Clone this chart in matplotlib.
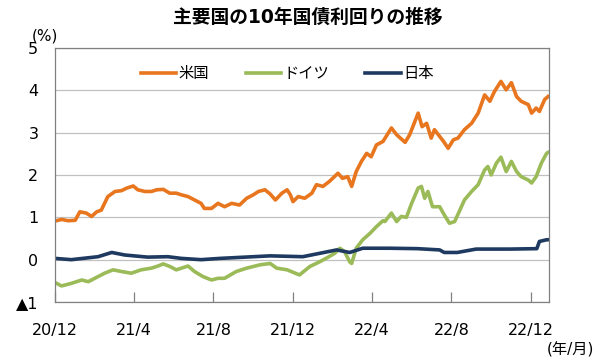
import numpy as np
import pandas as pd
import matplotlib
matplotlib.use("Agg")
import matplotlib.pyplot as plt

plt.rcParams['font.family'] = ['DejaVu Sans', 'Noto Sans CJK JP']

# values (%)
us_dates = ["2020-12-01", "2020-12-11", "2020-12-21", "2021-01-01", "2021-01-08", "2021-01-18",
            "2021-01-26", "2021-02-03", "2021-02-10", "2021-02-20", "2021-03-03", "2021-03-13",
            "2021-03-21", "2021-03-31", "2021-04-07", "2021-04-18", "2021-04-28", "2021-05-06",
            "2021-05-16", "2021-05-26", "2021-06-05", "2021-06-13", "2021-06-23", "2021-07-03",
            "2021-07-13", "2021-07-18", "2021-07-29", "2021-08-08", "2021-08-18", "2021-08-29",
            "2021-09-10", "2021-09-21", "2021-10-01", "2021-10-09", "2021-10-19", "2021-10-27",
            "2021-11-04", "2021-11-14", "2021-11-22", "2021-11-27", "2021-12-01", "2021-12-09",
            "2021-12-19", "2021-12-30", "2022-01-06", "2022-01-16", "2022-01-26", "2022-02-08",
            "2022-02-15", "2022-02-23", "2022-03-01", "2022-03-08", "2022-03-16", "2022-03-24",
            "2022-03-31", "2022-04-08", "2022-04-18", "2022-05-01", "2022-05-09", "2022-05-22",
            "2022-05-29", "2022-06-11", "2022-06-17", "2022-06-24", "2022-07-01", "2022-07-06",
            "2022-07-14", "2022-07-20", "2022-07-27", "2022-08-04", "2022-08-11", "2022-08-21",
            "2022-09-01", "2022-09-11", "2022-09-21", "2022-09-29", "2022-10-06", "2022-10-16",
            "2022-10-24", "2022-11-01", "2022-11-09", "2022-11-16", "2022-11-27", "2022-12-02",
            "2022-12-09", "2022-12-14", "2022-12-22", "2022-12-27"]
us_yield = [0.91, 0.95, 0.92, 0.93, 1.13, 1.10,
            1.02, 1.13, 1.17, 1.49, 1.61, 1.63,
            1.69, 1.74, 1.65, 1.61, 1.61, 1.65,
            1.66, 1.57, 1.57, 1.53, 1.49, 1.41,
            1.33, 1.21, 1.21, 1.33, 1.25, 1.33,
            1.29, 1.45, 1.53, 1.61, 1.65, 1.55,
            1.41, 1.57, 1.65, 1.53, 1.37, 1.49,
            1.45, 1.57, 1.77, 1.73, 1.85, 2.04,
            1.92, 1.96, 1.73, 2.08, 2.32, 2.51,
            2.43, 2.71, 2.79, 3.11, 2.95, 2.77,
            2.95, 3.46, 3.14, 3.22, 2.87, 3.07,
            2.91, 2.79, 2.63, 2.83, 2.87, 3.07,
            3.22, 3.46, 3.89, 3.74, 3.97, 4.21,
            4.01, 4.18, 3.85, 3.74, 3.66, 3.46,
            3.58, 3.50, 3.78, 3.85]

de_dates = ["2020-12-01", "2020-12-11", "2020-12-26", "2021-01-11", "2021-01-21", "2021-01-31",
            "2021-02-15", "2021-02-28", "2021-03-13", "2021-03-28", "2021-04-12", "2021-04-28",
            "2021-05-08", "2021-05-16", "2021-05-26", "2021-06-05", "2021-06-13", "2021-06-23",
            "2021-07-03", "2021-07-16", "2021-07-29", "2021-08-08", "2021-08-18", "2021-09-05",
            "2021-09-21", "2021-10-12", "2021-10-27", "2021-11-06", "2021-11-22", "2021-12-11",
            "2021-12-27", "2022-01-11", "2022-01-24", "2022-02-03", "2022-02-11", "2022-02-18",
            "2022-02-26", "2022-03-01", "2022-03-08", "2022-03-18", "2022-03-29", "2022-04-08",
            "2022-04-18", "2022-04-21", "2022-05-01", "2022-05-09", "2022-05-16", "2022-05-24",
            "2022-06-01", "2022-06-11", "2022-06-16", "2022-06-21", "2022-06-26", "2022-07-03",
            "2022-07-14", "2022-07-21", "2022-07-29", "2022-08-06", "2022-08-14", "2022-08-21",
            "2022-09-01", "2022-09-11", "2022-09-21", "2022-09-26", "2022-10-01", "2022-10-09",
            "2022-10-16", "2022-10-24", "2022-11-01", "2022-11-09", "2022-11-16", "2022-11-27",
            "2022-12-02", "2022-12-09", "2022-12-17", "2022-12-25", "2022-12-27"]
de_yield = [-0.54, -0.62, -0.56, -0.48, -0.52, -0.44,
            -0.32, -0.24, -0.28, -0.32, -0.24, -0.20,
            -0.15, -0.10, -0.16, -0.24, -0.20, -0.15,
            -0.28, -0.40, -0.48, -0.44, -0.44, -0.28,
            -0.20, -0.12, -0.09, -0.20, -0.24, -0.36,
            -0.16, -0.05, 0.06, 0.15, 0.27, 0.19,
            -0.05, -0.09, 0.27, 0.47, 0.62, 0.78,
            0.92, 0.90, 1.10, 0.90, 1.02, 1.00,
            1.33, 1.69, 1.73, 1.45, 1.61, 1.25,
            1.25, 1.06, 0.86, 0.90, 1.17, 1.41,
            1.61, 1.77, 2.12, 2.20, 2.00, 2.28,
            2.42, 2.08, 2.32, 2.08, 1.96, 1.88,
            1.81, 1.96, 2.28, 2.51, 2.53]

jp_dates = ["2020-12-01", "2020-12-26", "2021-02-05", "2021-02-26", "2021-03-18", "2021-04-22",
            "2021-05-23", "2021-06-13", "2021-07-13", "2021-08-11", "2021-10-27", "2021-12-16",
            "2022-01-11", "2022-02-06", "2022-02-26", "2022-03-18", "2022-04-28", "2022-06-10",
            "2022-07-14", "2022-07-21", "2022-08-10", "2022-09-08", "2022-10-30", "2022-12-10",
            "2022-12-14", "2022-12-25", "2022-12-27"]
jp_yield = [0.03, 0.00, 0.07, 0.17, 0.11, 0.06,
            0.07, 0.03, 0.00, 0.03, 0.09, 0.07,
            0.15, 0.23, 0.17, 0.27, 0.27, 0.26,
            0.23, 0.17, 0.17, 0.25, 0.25, 0.26,
            0.43, 0.47, 0.47]

tick_dates = ["2020-12-01", "2021-04-01", "2021-08-01", "2021-12-01",
              "2022-04-01", "2022-08-01", "2022-12-01"]
tick_labels = ["20/12", "21/4", "21/8", "21/12", "22/4", "22/8", "22/12"]
y_ticks = [-1, 0, 1, 2, 3, 4, 5]
y_labels = ["▲1", "0", "1", "2", "3", "4", "5"]

fig = plt.figure(figsize=(6.0, 3.63), dpi=100)
ax = fig.add_axes([0.0917, 0.168, 0.8233, 0.700])

ax.plot(pd.to_datetime(us_dates), us_yield, color="#E8761E", lw=2.6, label="米国")
ax.plot(pd.to_datetime(de_dates), de_yield, color="#9BBB59", lw=2.6, label="ドイツ")
ax.plot(pd.to_datetime(jp_dates), jp_yield, color="#1F3A60", lw=2.6, label="日本")

ax.set_ylim(-1, 5)
ax.set_xlim(pd.Timestamp("2020-12-01"), pd.Timestamp("2020-12-01") + pd.Timedelta(days=757.7))
ax.set_yticks(y_ticks)
ax.set_yticklabels(y_labels)
ax.set_xticks(pd.to_datetime(tick_dates))
ax.set_xticklabels(tick_labels)
ax.tick_params(axis="x", direction="in", length=7, width=0.9, color="#808080", pad=15, labelsize=11.5)
ax.tick_params(axis="y", length=0, pad=12, labelsize=11.5)
ax.grid(axis="y", color="#C0C0C0", lw=0.9)
ax.set_axisbelow(True)
for s in ax.spines.values():
    s.set_color("#808080")
    s.set_linewidth(0.9)

ax.legend(loc="center", bbox_to_anchor=(0.47, 0.898), ncol=3, frameon=False,
          fontsize=11, handlelength=2.3, handletextpad=0.15, columnspacing=2.4)

fig.text(0.513, 0.953, "主要国の10年国債利回りの推移", ha="center", va="center",
         fontsize=13.5, fontweight="bold")
fig.text(0.075, 0.90, "(%)", ha="center", va="center", fontsize=11)
fig.text(0.99, 0.035, "(年/月)", ha="right", va="center", fontsize=11)

fig.savefig("out.png", dpi=100)
